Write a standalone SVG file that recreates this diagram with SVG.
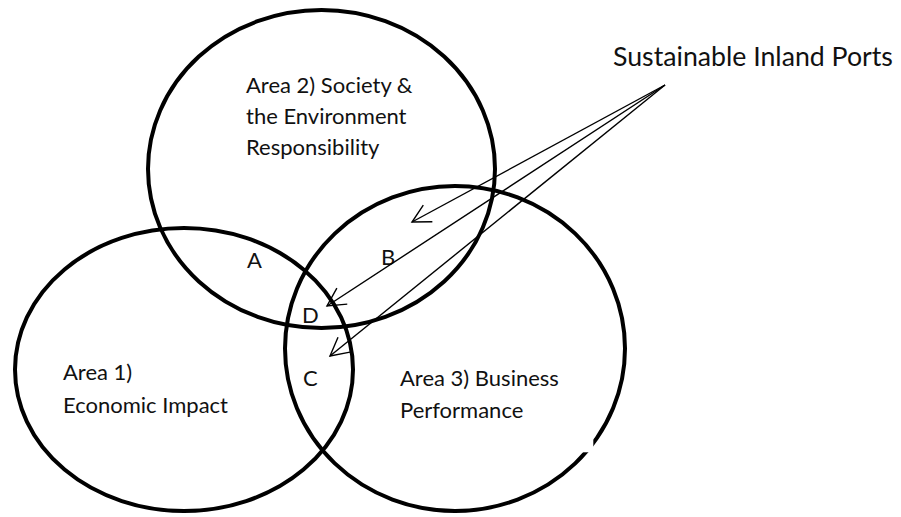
<svg xmlns="http://www.w3.org/2000/svg" width="901" height="517" viewBox="0 0 901 517">
<style>
.c{fill:none;stroke:#000;stroke-width:4}
.t{font-family:Lato,"Open Sans","Liberation Sans",sans-serif;font-size:22px;fill:#111}
.a{stroke:#000;stroke-width:1.4;fill:none;marker-end:url(#ah)}
</style>
<defs>
<marker id="ah" markerUnits="userSpaceOnUse" markerWidth="30" markerHeight="30" viewBox="-25 -15 30 30" refX="0" refY="0" orient="auto">
<path d="M -18 -9.5 L 0 0 L -18 9.5" fill="none" stroke="#000" stroke-width="1.4"/>
</marker>
</defs>
<rect width="901" height="517" fill="#fff"/>
<g id="area2">
<ellipse class="c" cx="321.5" cy="169" rx="173.5" ry="159"/>
<text class="t" x="246" y="93">Area 2) Society &amp;</text>
<text class="t" x="246" y="124">the Environment</text>
<text class="t" x="246" y="155">Responsibility</text>
</g>
<g id="area1">
<ellipse class="c" cx="184" cy="369.5" rx="169" ry="141.5"/>
<text class="t" x="63" y="380">Area 1)</text>
<text class="t" x="63" y="413">Economic Impact</text>
</g>
<g id="area3">
<ellipse class="c" cx="455" cy="348.5" rx="170" ry="162.5"/>
<text class="t" x="400" y="386">Area 3) Business</text>
<text class="t" x="400" y="418">Performance</text>
<rect x="575" y="430" width="18.3" height="22.3" fill="#fff"/>
</g>
<g id="regions">
<text class="t" x="247" y="268">A</text>
<text class="t" x="381" y="265">B</text>
<text class="t" x="302" y="323">D</text>
<text class="t" x="303" y="386">C</text>
</g>
<g id="title">
<text class="t" x="613" y="66" style="font-size:26.7px">Sustainable Inland Ports</text>
</g>
<g id="connectors">
<line class="a" x1="665" y1="85" x2="412" y2="222"/>
<line class="a" x1="665" y1="85" x2="327" y2="306"/>
<line class="a" x1="665" y1="85" x2="330" y2="356"/>
</g>
</svg>
